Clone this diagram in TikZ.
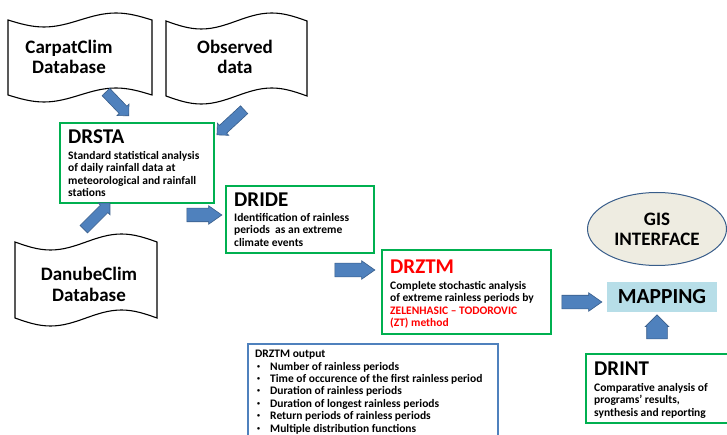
\documentclass[tikz,border=0pt]{standalone}
\usepackage{fontspec}
\setmainfont{Carlito}
\usetikzlibrary{shapes.geometric, shapes.arrows, positioning, calc}

\definecolor{boxgreen}{HTML}{00B050}
\definecolor{arrowblue}{HTML}{4F81BD}
\definecolor{arrowedge}{HTML}{385D8A}
\definecolor{gisfill}{HTML}{EEECE1}
\definecolor{mapfill}{HTML}{B7DEE8}

\tikzset{
    pics/punchtape/.style n args={4}{code={
        \draw[line width=1.1pt, fill=white]
            (0,#2) sin (0.25*#1,#2+#4) cos (0.5*#1,#2) sin (0.75*#1,#2-#4) cos (#1,#2)
            -- (#1,#3) sin (0.75*#1,#3-#4) cos (0.5*#1,#3) sin (0.25*#1,#3+#4) cos (0,#3) -- cycle;
    }}
}
\newcommand{\outbullet}{\makebox[15pt][l]{\hspace{2pt}\raisebox{2pt}{\fontsize{6}{6}\selectfont•}}}

\begin{document}
\begin{tikzpicture}[x=1pt, y=-1pt, font=\bfseries,
    modbox/.style={draw=boxgreen, line width=1.6pt, rectangle, anchor=north west, inner sep=0pt},
    modtitle/.style={anchor=west, inner sep=0pt, font=\fontsize{21}{22}\selectfont\bfseries},
    modtext/.style={anchor=north west, align=left, inner sep=0pt, font=\fontsize{11.5}{12.4}\selectfont\bfseries},
    tapetext/.style={align=center, inner sep=0pt, font=\fontsize{19}{20}\selectfont\bfseries},
    blockarrow/.style={single arrow, draw=arrowedge, fill=arrowblue, line width=0.6pt, inner xsep=0pt,
        inner ysep=5pt, sloped, allow upside down, midway, single arrow head extend=3pt},
    flatarrow/.style={blockarrow, inner ysep=6.5pt, single arrow head extend=2.5pt, single arrow tip angle=70}
]
    \useasboundingbox (0,0) rectangle (727,435);
    \fill[white] (0,0) rectangle (727,435);

    \pic at (8,0) {punchtape={144}{20}{95}{7}};
    \pic at (166,0) {punchtape={141}{21}{96}{8}};
    \pic at (15,0) {punchtape={142}{242}{318}{8}};
    \node[tapetext] (carpat) at (69,57) {CarpatClim\\Database};
    \node[tapetext] (observed) at (235,57) {Observed\\data};
    \node[tapetext, font=\fontsize{19}{21}\selectfont\bfseries] (danube) at (89,284) {DanubeClim\\Database};

    \node[modbox, minimum width=154pt, minimum height=80pt] (drsta) at (59,122) {};
    \node[modtitle] (drstatitle) at (68,137) {DRSTA};
    \node[modtext] (drstatext) at (68,151) {Standard statistical analysis\\of daily rainfall data at\\meteorological and rainfall\\stations};

    \node[modbox, minimum width=148pt, minimum height=67pt] (dride) at (225,185) {};
    \node[modtitle] (dridetitle) at (234,200) {DRIDE};
    \node[modtext] (dridetext) at (234,213) {Identification of rainless\\periods~ as an extreme\\climate events};

    \node[modbox, minimum width=169pt, minimum height=84pt] (drztm) at (381,249) {};
    \node[modtitle, text=red] (drztmtitle) at (390,267) {DRZTM};
    \node[modtext] (drztmtext) at (390,281) {Complete stochastic analysis\\of extreme rainless periods by\\\textcolor{red}{ZELENHASIC -- TODOROVIC}\\\textcolor{red}{(ZT) method}};

    \node[modbox, minimum width=150pt, minimum height=69pt] (drint) at (585,353) {};
    \node[modtitle] (drinttitle) at (594,369) {DRINT};
    \node[modtext] (drinttext) at (594,383) {Comparative analysis of\\programs’ results,\\synthesis and reporting};

    \node[draw=arrowblue, line width=1.6pt, rectangle, anchor=north west, minimum width=250pt, minimum height=100pt] (output) at (247,343) {};
    \node[modtext] (outputtext) at (255,350) {DRZTM output\\
        \outbullet Number of rainless periods\\
        \outbullet Time of occurence of the first rainless period\\
        \outbullet Duration of rainless periods\\
        \outbullet Duration of longest rainless periods\\
        \outbullet Return periods of rainless periods\\
        \outbullet Multiple distribution functions};

    \node[ellipse, draw=arrowedge, fill=gisfill, line width=1pt, minimum width=139pt, minimum height=73pt,
        align=center, font=\fontsize{19}{20}\selectfont\bfseries] (gis) at (657,229) {GIS\\INTERFACE};
    \node[rectangle, fill=mapfill, minimum width=110pt, minimum height=30pt,
        font=\fontsize{21.5}{22}\selectfont\bfseries] (mapping) at (662,297) {MAPPING};

    \coordinate (a1s) at (104,90);  \coordinate (a1e) at (127,114);
    \coordinate (a2s) at (246,108); \coordinate (a2e) at (219,133);
    \coordinate (a3s) at (82,231);  \coordinate (a3e) at (108,205);
    \coordinate (a4s) at (182,215); \coordinate (a4e) at (217,215);
    \coordinate (a5s) at (330,270); \coordinate (a5e) at (370,270);
    \coordinate (a6s) at (557,302); \coordinate (a6e) at (597,302);
    \coordinate (a7s) at (657,344); \coordinate (a7e) at (657,320);
    \path (a1s) -- (a1e) node[blockarrow, minimum height=33pt] (a1) {};
    \path (a2s) -- (a2e) node[blockarrow, minimum height=37pt] (a2) {};
    \path (a3s) -- (a3e) node[blockarrow, minimum height=37pt] (a3) {};
    \path (a4s) -- (a4e) node[flatarrow, minimum height=35pt] (a4) {};
    \path (a5s) -- (a5e) node[flatarrow, minimum height=40pt] (a5) {};
    \path (a6s) -- (a6e) node[flatarrow, minimum height=40pt] (a6) {};
    \path (a7s) -- (a7e) node[blockarrow, minimum height=24pt, inner ysep=10pt, single arrow head extend=1.5pt] (a7) {};
\end{tikzpicture}
\end{document}
